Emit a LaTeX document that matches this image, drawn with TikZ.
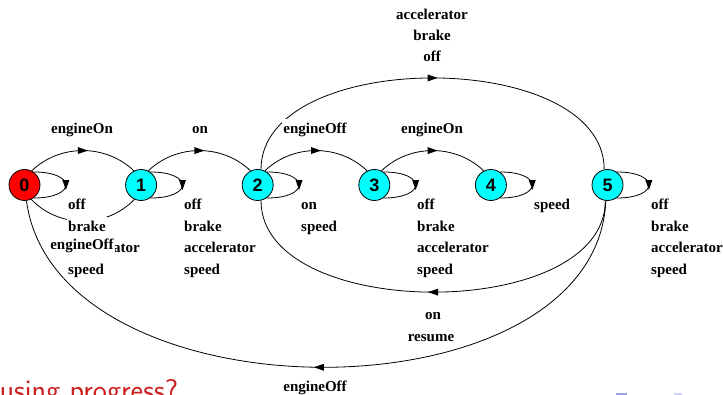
\documentclass[tikz,border=0pt]{standalone}
\usepackage{fontspec}
\usetikzlibrary{decorations.markings}
\newfontfamily\lblfont{Liberation Serif}
\newfontfamily\numfont{Liberation Sans}
\definecolor{alertred}{RGB}{204,32,32}
\definecolor{navdark}{RGB}{160,160,232}
\definecolor{navlight}{RGB}{208,208,244}
\definecolor{stcyan}{RGB}{0,255,255}
\definecolor{stred}{RGB}{255,0,0}
\tikzset{
  stnode/.style={circle,draw,line width=0.8pt,minimum size=31pt,inner sep=0pt,fill=stcyan,font=\numfont\bfseries\fontsize{18}{18}\selectfont},
  trans/.style={line width=0.8pt},
  midarr/.style={postaction={decorate,decoration={markings,mark=at position 0.5 with {\fill (5pt,0pt) -- (-5pt,3.5pt) -- (-5pt,-3.5pt) -- cycle;}}}},
  lbl/.style={font=\lblfont\bfseries\fontsize{15}{18}\selectfont,fill=white,inner sep=1pt,text height=13.5pt,text depth=4pt,anchor=base west},
  lblc/.style={lbl,anchor=base}
}
\begin{document}
\begin{tikzpicture}[x=1pt,y=1pt]
\useasboundingbox (0,0) rectangle (723,395);
\clip (0,0) rectangle (723,395);
\node[stnode,fill=stred] (s0) at (24.5,210) {0};
\node[stnode] (s1) at (141.1,210) {1};
\node[stnode] (s2) at (257.7,210) {2};
\node[stnode] (s3) at (374.3,210) {3};
\node[stnode] (s4) at (490.9,210) {4};
\node[stnode] (s5) at (607.5,210) {5};
\draw[trans,midarr] (s0.55) .. controls +(43,0) and +(43,0) .. (s0.-55);
\draw[trans,midarr] (s1.55) .. controls +(43,0) and +(43,0) .. (s1.-55);
\draw[trans,midarr] (s2.55) .. controls +(43,0) and +(43,0) .. (s2.-55);
\draw[trans,midarr] (s3.55) .. controls +(43,0) and +(43,0) .. (s3.-55);
\draw[trans,midarr] (s4.55) .. controls +(43,0) and +(43,0) .. (s4.-55);
\draw[trans,midarr] (s5.55) .. controls +(43,0) and +(43,0) .. (s5.-55);
\draw[trans,midarr] (s0.63) .. controls +(28,27) and +(-28,27) .. (s1.117);
\draw[trans,midarr] (s1.63) .. controls +(28,27) and +(-28,27) .. (s2.117);
\draw[trans,midarr] (s2.63) .. controls +(28,27) and +(-28,27) .. (s3.117);
\draw[trans,midarr] (s3.63) .. controls +(28,27) and +(-28,27) .. (s4.117);
\draw[trans,midarr] (s1.-115) .. controls +(-28,-29) and +(28,-29) .. (s0.-65);
\draw[trans,midarr] (s2.78) .. controls +(0,122) and +(0,122) .. (s5.102);
\draw[trans,midarr] (s5.-98) .. controls +(0,-122) and +(0,-122) .. (s2.-78);
\draw[trans,midarr] (s5.-96) .. controls +(-10,-222) and +(30,-222) .. (s0.-83);
\node[lbl] (l0a) at (67,185) {off};
\node[lbl] (l0b) at (67,163) {brake};
\node[lbl] (l0c) at (67,142) {accelerator};
\node[lbl] (l0d) at (67,120) {speed};
\node[lbl] (l1a) at (183,185) {off};
\node[lbl] (l1b) at (183,163) {brake};
\node[lbl] (l1c) at (183,142) {accelerator};
\node[lbl] (l1d) at (183,120) {speed};
\node[lbl] (l2a) at (300,185) {on};
\node[lbl] (l2b) at (300,163) {speed};
\node[lbl] (l3a) at (416,185) {off};
\node[lbl] (l3b) at (416,163) {brake};
\node[lbl] (l3c) at (416,142) {accelerator};
\node[lbl] (l3d) at (416,120) {speed};
\node[lbl] (l4a) at (533,185) {speed};
\node[lbl] (l5a) at (650,185) {off};
\node[lbl] (l5b) at (650,163) {brake};
\node[lbl] (l5c) at (650,142) {accelerator};
\node[lbl] (l5d) at (650,120) {speed};
\node[lblc] (t01) at (82,261) {engineOn};
\node[lblc] (t12) at (200,261) {on};
\node[lblc] (t23) at (315,261) {engineOff};
\node[lblc] (t34) at (432,261) {engineOn};
\node[lblc] (t25a) at (432,375.5) {accelerator};
\node[lblc] (t25b) at (432,354.3) {brake};
\node[lblc] (t25c) at (432,333.3) {off};
\node[lblc] (t10) at (82,145.5) {engineOff};
\node[lblc] (t52a) at (433,75) {on};
\node[lblc] (t52b) at (431,53.3) {resume};
\node[lblc] (t50) at (315,3) {engineOff};
\node[anchor=base west,text=alertred,font=\sffamily\fontsize{30}{30}\selectfont] (note) at (-4,-6) {using progress?};
\fill[navdark] (616,0) rectangle (627,2);
\fill[navlight] (674,0) rectangle (682,2);
\end{tikzpicture}
\end{document}
